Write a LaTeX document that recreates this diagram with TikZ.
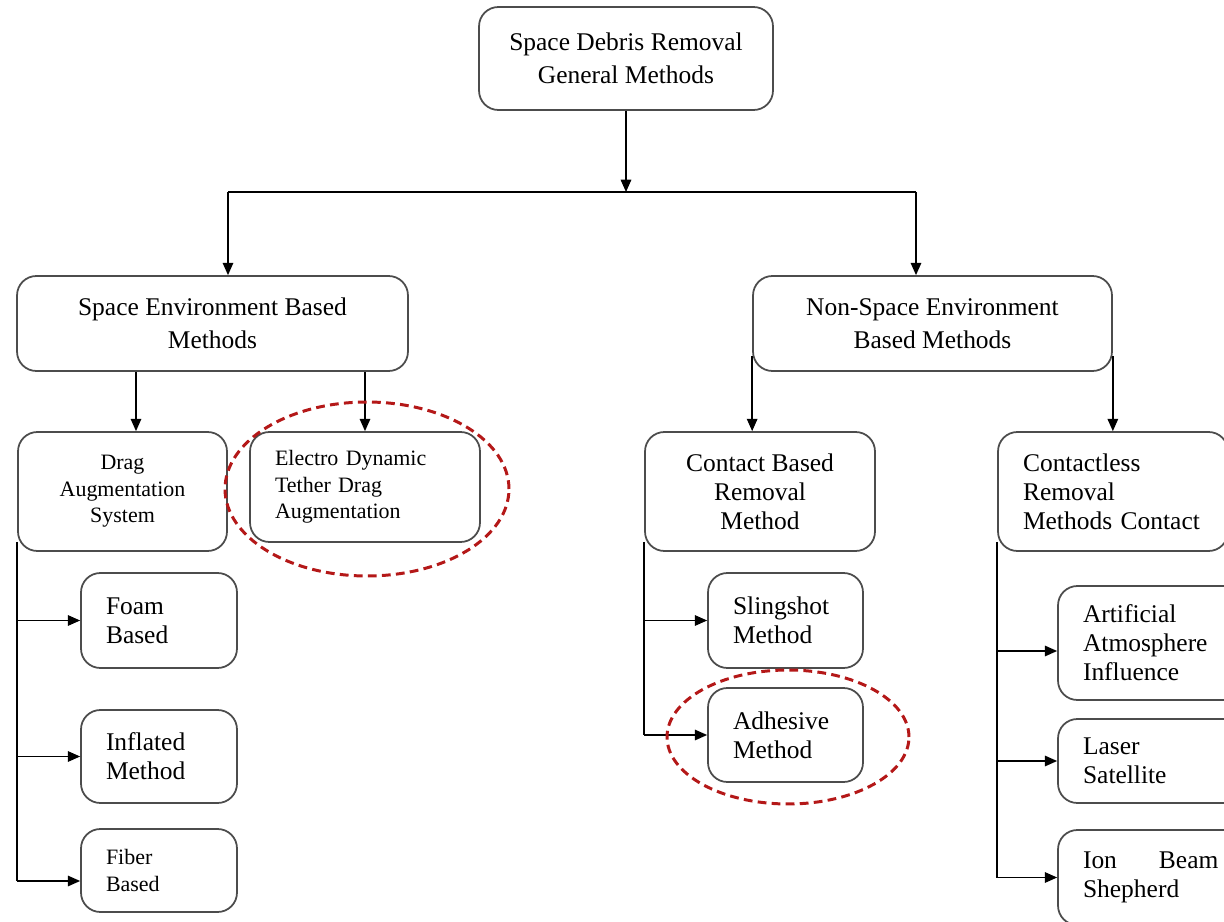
\documentclass[tikz,border=0pt]{standalone}
\usepackage{fontspec}
\setmainfont{Liberation Serif}
\usetikzlibrary{arrows.meta}
\definecolor{ringred}{RGB}{180,24,24}
\tikzset{
	box/.style={draw=gray!60!black, line width=1pt, rounded corners=11pt, fill=white, inner sep=0pt},
	big/.style={font=\fontsize{14.5}{18.7}\selectfont},
	mid/.style={font=\fontsize{14.5}{16.5}\selectfont},
	small/.style={font=\fontsize{12.5}{15}\selectfont},
	arr/.style={-{Triangle[length=7pt,width=6pt]}, line width=0.8pt},
	ring/.style={draw=ringred, line width=1.7pt, dash pattern=on 5pt off 3pt}
}

\begin{document}
\begin{tikzpicture}[x=0.02cm,y=-0.02cm]
				\clip (0,0) rectangle (1224,922);
				\node[box,big,align=center,minimum width=5.88cm,minimum height=2.06cm] (top) at (626,58.5) {Space Debris Removal\\General Methods};
				\node[box,big,align=center,minimum width=7.82cm,minimum height=1.9cm] (seb) at (212.5,323.5) {Space Environment Based\\Methods};
				\node[box,big,align=center,minimum width=7.18cm,minimum height=1.9cm] (nseb) at (932.5,323.5) {Non-Space Environment\\Based Methods};
				\node[box,small,align=center,minimum width=4.18cm,minimum height=2.38cm] (drag) at (122.5,491.5) {Drag\\Augmentation\\System};
				\node[box,small,align=left,text width=3.6cm,inner xsep=0.5cm,minimum height=2.2cm] (edt) at (365,487) {Electro Dynamic\\Tether Drag\\Augmentation};
				\node[box,mid,align=left,text width=2.12cm,inner xsep=0.5cm,minimum height=1.9cm] (foam) at (159,620.5) {Foam\\Based};
				\node[box,mid,align=left,text width=2.12cm,inner xsep=0.5cm,minimum height=1.86cm] (infl) at (159,756.5) {Inflated\\Method};
				\node[box,small,align=left,text width=2.12cm,inner xsep=0.5cm,minimum height=1.66cm] (fiber) at (159,870.5) {Fiber\\Based};
				\node[box,mid,align=center,minimum width=4.6cm,minimum height=2.38cm] (cbr) at (760,491.5) {Contact Based\\Removal\\Method};
				\node[box,mid,align=left,text width=3.6cm,inner xsep=0.5cm,minimum height=2.38cm] (clr) at (1113,491.5) {Contactless\\Removal\\Methods Contact};
				\node[box,mid,align=left,text width=2.1cm,inner xsep=0.5cm,minimum height=1.9cm] (sling) at (785.5,620.5) {Slingshot\\Method};
				\node[box,mid,align=left,text width=2.1cm,inner xsep=0.5cm,minimum height=1.88cm] (adh) at (785.5,735) {Adhesive\\Method};
				\node[box,mid,align=left,text width=2.8cm,inner xsep=0.5cm,minimum height=2.28cm] (art) at (1153,643) {Artificial\\Atmosphere\\Influence};
				\node[box,mid,align=left,text width=2.8cm,inner xsep=0.5cm,minimum height=1.68cm] (laser) at (1153,761) {Laser\\Satellite};
				\node[box,mid,align=left,text width=2.8cm,inner xsep=0.5cm,minimum height=1.9cm] (ion) at (1153,877.5) {Ion\hspace{0.84cm}Beam\\Shepherd};
				\coordinate (j) at (626,192);
				\coordinate (jl) at (228,192);
				\coordinate (jr) at (916,192);
				\coordinate (dt) at ([xshift=0.27cm]drag.north);
				\coordinate (bl) at ([yshift=0.2cm]drag.south west);
				\coordinate (fa) at ([yshift=-0.21cm]fiber.west);
				\coordinate (nl) at ([yshift=0.32cm]nseb.south west);
				\coordinate (nr) at ([yshift=0.32cm]nseb.south east);
				\coordinate (cl) at ([yshift=0.2cm]cbr.south west);
				\coordinate (rl) at ([yshift=0.2cm]clr.south west);
				\coordinate (aa) at ([yshift=-0.16cm]art.west);
				\draw[arr] (top.south) -- (j);
				\draw[line width=0.8pt] (jl) -- (jr);
				\draw[line width=0.8pt] (bl) -- (bl |- fa);
				\draw[line width=0.8pt] (cl) -- (cl |- adh.west);
				\draw[line width=0.8pt] (rl) -- (rl |- ion.west);
				\path[arr]
				(jl) edge (jl |- seb.north)
				(jr) edge (jr |- nseb.north)
				(dt |- seb.south) edge (dt)
				(edt.north |- seb.south) edge (edt.north)
				(bl |- foam.west) edge (foam.west)
				(bl |- infl.west) edge (infl.west)
				(bl |- fa) edge (fa)
				(nl) edge (nl |- cbr.north)
				(nr) edge (nr |- clr.north)
				(cl |- sling.west) edge (sling.west)
				(cl |- adh.west) edge (adh.west)
				(rl |- aa) edge (aa)
				(rl |- laser.west) edge (laser.west)
				(rl |- ion.west) edge (ion.west);
				\draw[ring] ([shift={(2,2)}]edt.center) ellipse [x radius=2.84cm, y radius=1.74cm];
				\draw[ring] ([shift={(2.5,2)}]adh.center) ellipse [x radius=2.42cm, y radius=1.34cm];
			\end{tikzpicture}
\end{document}
